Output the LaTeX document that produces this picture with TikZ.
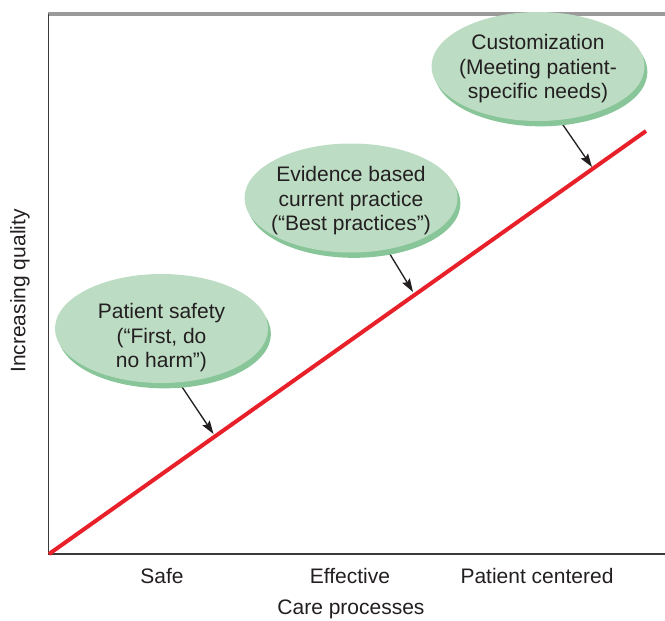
\documentclass[tikz,border=0pt]{standalone}
\usepackage{fontspec}
\setmainfont{Liberation Sans}
\usetikzlibrary{shapes.geometric,arrows.meta,shadows,backgrounds}
\definecolor{bubblefill}{HTML}{BDDCC4}
\definecolor{bubbleshade}{HTML}{88C699}
\definecolor{linered}{HTML}{E8202A}
\definecolor{axisgray}{HTML}{3A3A3A}
\definecolor{bargray}{HTML}{9A9A9A}
\definecolor{textdark}{HTML}{231F20}
\tikzset{
  bubble/.style={ellipse, fill=bubblefill, draw=none, minimum width=159.75pt, minimum height=81.75pt, inner sep=0pt,
    drop shadow={shadow xshift=2.2pt, shadow yshift=-4pt, fill=bubbleshade, opacity=1}},
  bubbletext/.style={align=center, text=textdark, inner sep=0pt, font=\fontsize{15.75}{18.4}\selectfont},
  axislabel/.style={text=textdark, inner sep=0pt, font=\fontsize{15.75}{18.4}\selectfont},
  pointer/.style={-{Stealth[length=10pt,width=6.5pt,inset=1.5pt]}, line width=1pt, draw=textdark},
}
\begin{document}
\begin{tikzpicture}[x=0.75pt,y=-0.75pt]
\useasboundingbox (0,0) rectangle (665,621);
% axes
\coordinate (top) at (48.5,14);
\coordinate (orig) at (48.5,554);
\coordinate (right) at (665,554);
\coordinate (barend) at (665,14);
\draw[bargray, line width=3pt] (47.5,14) -- (barend);
\draw[axisgray, line width=1.2pt] (top) -- (orig) -- (right);
% red line
\coordinate (rs) at (49,554);
\coordinate (re) at (646,131);
\draw[linered, line width=3pt] (rs) -- (re);
% bubbles
\node[bubble] (e1) at (161.5,328.5) {};
\node[bubbletext] (t1) at (161.5,338) {Patient safety\\(“First, do\\no harm”)};
\node[bubble] (e2) at (351,198) {};
\node[bubbletext] (t2) at (351,201) {Evidence based\\current practice\\(“Best practices”)};
\node[bubble] (e3) at (538,66.5) {};
\node[bubbletext] (t3) at (538,69) {Customization\\(Meeting patient-\\specific needs)};
% pointer targets on the red line
\coordinate (p1) at (213.5,434);
\coordinate (p2) at (413,292);
\coordinate (p3) at (592,167);
\begin{scope}[on background layer]
\draw[pointer] (e1.-72) -- (p1);
\draw[pointer] (e2.-55) -- (p2);
\draw[pointer] (e3.-68) -- (p3);
\end{scope}
% labels
\node[axislabel, rotate=90] (ylab) at (20,291) {Increasing quality};
\node[axislabel] (l1) at (162,576) {Safe};
\node[axislabel] (l2) at (350,576) {Effective};
\node[axislabel] (l3) at (537,576) {Patient centered};
\node[axislabel] (xlab) at (351,609) {Care processes};
\end{tikzpicture}
\end{document}
